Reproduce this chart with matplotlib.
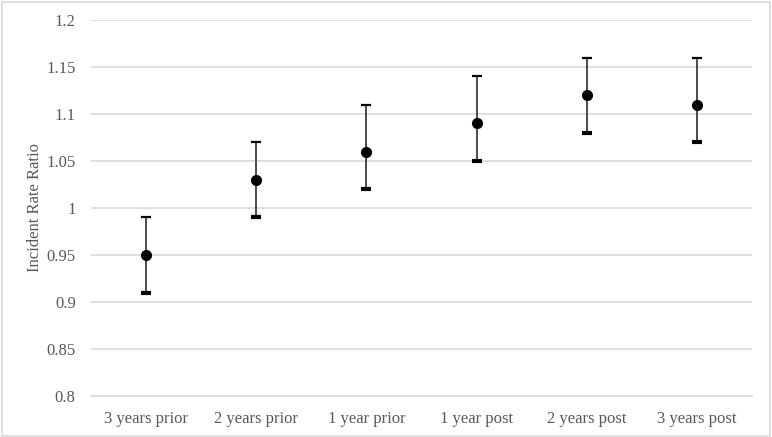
import numpy as np
import matplotlib.pyplot as plt
from matplotlib.patches import Rectangle

categories = ['3 years prior', '2 years prior', '1 year prior',
              '1 year post', '2 years post', '3 years post']
irr = [0.95, 1.03, 1.06, 1.09, 1.12, 1.11]
lower = [0.91, 0.99, 1.02, 1.05, 1.08, 1.07]
upper = [0.99, 1.07, 1.11, 1.14, 1.16, 1.16]

plt.rcParams['font.family'] = ['Liberation Serif', 'DejaVu Serif']
text_color = '#595959'

fig = plt.figure(figsize=(7.72, 4.37), dpi=100)
ax = fig.add_axes([91 / 772, 1 - 396 / 437, (752 - 91) / 772, (396 - 20) / 437])

x = np.arange(len(categories))

# whiskers
ax.vlines(x, lower, upper, color='#1a1a1a', linewidth=1.1, zorder=3)
# caps: thin on top, heavy on bottom like the original
ax.plot(x, upper, linestyle='none', marker='_', markersize=7,
        markeredgewidth=1.6, color='black', zorder=3)
ax.plot(x, lower, linestyle='none', marker='_', markersize=7,
        markeredgewidth=3, color='black', zorder=3)
# point estimates
ax.plot(x, irr, linestyle='none', marker='o', markersize=7,
        color='black', zorder=4)

ax.set_xlim(-0.5, len(categories) - 0.5)
ax.set_ylim(0.8, 1.2)
ax.set_yticks(np.arange(0.8, 1.2001, 0.05))
ax.set_yticklabels(['0.8', '0.85', '0.9', '0.95', '1', '1.05',
                    '1.1', '1.15', '1.2'])
ax.set_xticks(x)
ax.set_xticklabels(categories)

ax.grid(axis='y', color='#d9d9d9', linewidth=1.2)
ax.set_axisbelow(True)
for side in ['top', 'right', 'left']:
    ax.spines[side].set_visible(False)
ax.spines['bottom'].set_color('#d9d9d9')
ax.spines['bottom'].set_linewidth(1.2)
ax.tick_params(axis='both', length=0, labelsize=12, colors=text_color)
ax.tick_params(axis='y', pad=11)
ax.tick_params(axis='x', pad=10.5)

ax.set_ylabel('Incident Rate Ratio', fontsize=12, color=text_color)
ax.yaxis.set_label_coords((43 - 91) / 661, 0.5)

# light border around the whole chart
fig.patches.append(Rectangle((0.002, 0.003), 0.995, 0.993,
                             transform=fig.transFigure, fill=False,
                             edgecolor='#d9d9d9', linewidth=1.2))

fig.savefig('out.png', dpi=100)
